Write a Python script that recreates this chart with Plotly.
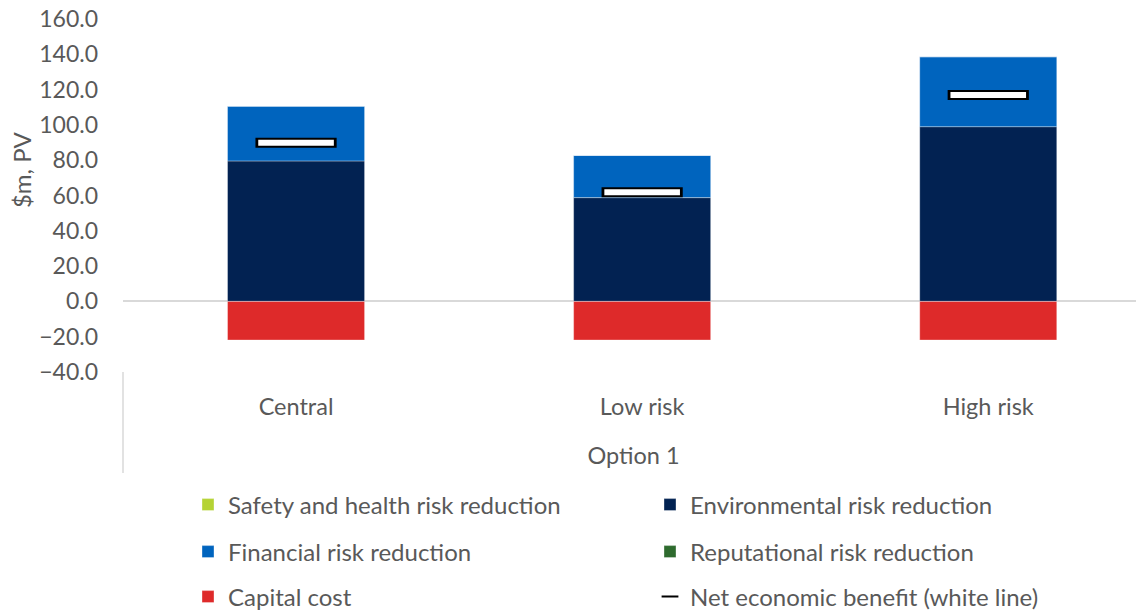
import plotly.graph_objects as go

categories = ["Central", "Low risk", "High risk"]
group_label = "Option 1"
safety = [0.0, 0.0, 0.0]
environmental = [79.6, 58.8, 99.0]
financial = [31.0, 23.9, 39.6]
reputational = [0.0, 0.0, 0.0]
capital = [-21.9, -21.9, -21.9]
net_benefit = [89.9, 61.9, 116.9]
y_ticks = [-40, -20, 0, 20, 40, 60, 80, 100, 120, 140, 160]

FONT = "Lato"
GREY = "#595959"
BW = 0.396
# the page places the figure 8px from the window's top-left corner
W, H = 1136, 602
edge = dict(width=1, color="rgba(255,255,255,0.35)")

fig = go.Figure()
fig.add_trace(go.Bar(x=categories, y=safety, name="Safety and health risk reduction",
                     marker=dict(color="#B5D334", line=edge), width=BW, legend="legend"))
fig.add_trace(go.Bar(x=categories, y=environmental, name="Environmental risk reduction",
                     marker=dict(color="#022252", line=edge), width=BW, legend="legend2"))
fig.add_trace(go.Bar(x=categories, y=financial, name="Financial risk reduction",
                     marker=dict(color="#0064BE", line=edge), width=BW, legend="legend3"))
fig.add_trace(go.Bar(x=categories, y=reputational, name="Reputational risk reduction",
                     marker=dict(color="#2E6B2E", line=edge), width=BW, legend="legend4"))
fig.add_trace(go.Bar(x=categories, y=capital, name="Capital cost",
                     marker=dict(color="#DE2A2A", line=edge), width=BW, legend="legend5"))
fig.add_trace(go.Scatter(x=categories, y=net_benefit, mode="markers",
                         name="Net economic benefit (white line)",
                         marker=dict(symbol="line-ew", size=58, color="black",
                                     line=dict(width=10, color="black")),
                         legend="legend6"))
fig.add_trace(go.Scatter(x=categories, y=net_benefit, mode="markers", showlegend=False,
                         marker=dict(symbol="line-ew", size=54, color="white",
                                     line=dict(width=6, color="white"))))

def leg(px_x, px_y, **kw):
    d = dict(orientation="h", xref="container", yref="container",
             x=px_x / W, y=1 - px_y / H, xanchor="left", yanchor="middle",
             font=dict(family=FONT, size=24, color=GREY),
             bgcolor="rgba(0,0,0,0)", borderwidth=0)
    d.update(kw)
    return d

col1, col2 = 180, 642
rows = [497, 544, 589]

fig.update_layout(
    width=W, height=H,
    margin=dict(l=115, r=0, t=11, b=238, autoexpand=False),
    barmode="relative",
    plot_bgcolor="white", paper_bgcolor="white",
    font=dict(family=FONT, size=24, color=GREY),
    showlegend=True,
    legend=leg(col1, rows[0]),
    legend2=leg(col2, rows[0]),
    legend3=leg(col1, rows[1]),
    legend4=leg(col2, rows[1]),
    legend5=leg(col1, rows[2]),
    legend6=leg(col2, rows[2], itemsizing="constant"),
    xaxis=dict(range=[-0.5, 2.45], showgrid=False, showline=False, ticks="",
               automargin=False,
               tickfont=dict(family=FONT, size=23.5, color=GREY),
               ticklabelstandoff=18,
               title=dict(text=group_label, standoff=29,
                          font=dict(family=FONT, size=23.5, color=GREY))),
    yaxis=dict(range=[-40, 160], tickvals=y_ticks, tickformat=".1f",
               showgrid=False, showline=False, ticks="", automargin=False,
               zeroline=True, zerolinecolor="#D9D9D9", zerolinewidth=1.5,
               tickfont=dict(family=FONT, size=23, color=GREY),
               ticklabelstandoff=24, ticklabeloverflow="allow"),
    shapes=[dict(type="line", xref="paper", yref="paper", x0=0, x1=0, y0=0, y1=-0.286,
                 line=dict(color="#D9D9D9", width=1.5))],
    annotations=[dict(text="$m, PV", xref="paper", yref="paper", x=-0.0999, y=0.572,
                      textangle=-90, showarrow=False, xanchor="center", yanchor="middle",
                      font=dict(family=FONT, size=24, color=GREY))],
)

fig.write_html("out.html")
